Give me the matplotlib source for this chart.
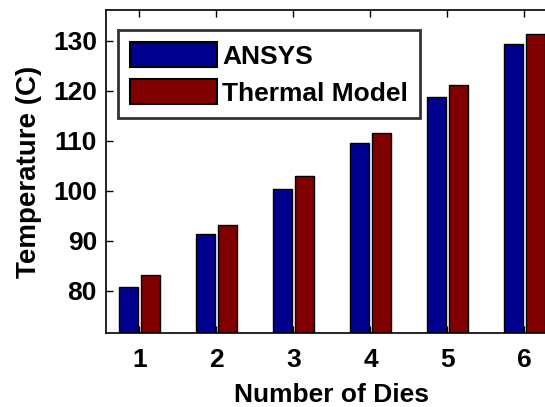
import numpy as np
import matplotlib
matplotlib.use('Agg')
import matplotlib.pyplot as plt

# data
dies = [1, 2, 3, 4, 5, 6]
ansys = [80.9, 91.4, 100.5, 109.7, 118.9, 129.5]
thermal = [83.2, 93.3, 103.0, 111.7, 121.3, 131.4]
series_names = ['ANSYS', 'Thermal Model']

plt.rcParams['font.family'] = ['Liberation Sans', 'DejaVu Sans']
plt.rcParams['font.weight'] = 'bold'

W, H = 545, 407
fig = plt.figure(figsize=(W/100, H/100), dpi=100)
# axes box in pixels (right side runs past the figure edge, like the reference)
x0, y0, y1 = 106, 333, 10
xlo, xhi = 0.565, 6.435
ppu = 77.0
ax = fig.add_axes([x0/W, (H-y0)/H, (xhi-xlo)*ppu/W, (y0-y1)/H])

x = np.array(dies)
off = 0.14
bw = 0.247
ax.bar(x-off, ansys, bw, color='#00008f', edgecolor='black', linewidth=1.0, label=series_names[0])
ax.bar(x+off, thermal, bw, color='#800000', edgecolor='black', linewidth=1.0, label=series_names[1])

ax.set_xlim(xlo, xhi)
ax.set_ylim(71.6, 136.2)
ax.set_xticks(dies)
ax.set_yticks([80, 90, 100, 110, 120, 130])
ax.tick_params(direction='in', length=5, width=1, top=True, right=True, labelsize=19)
ax.tick_params(axis='y', pad=6.5)
ax.tick_params(axis='x', pad=10.5)
for s in ax.spines.values():
    s.set_linewidth(1.2)

ax.set_xlabel('Number of Dies', fontsize=19, fontweight='bold', labelpad=8)
ax.set_ylabel('Temperature (C)', fontsize=20, fontweight='bold', labelpad=8)

leg = ax.legend(loc='upper left', bbox_to_anchor=(118/W, 1-30/H), bbox_transform=fig.transFigure,
                fontsize=19, frameon=True, fancybox=False, borderaxespad=0,
                handlelength=3.3, handleheight=1.1, handletextpad=0.2,
                labelspacing=0.4, borderpad=0.45)
leg.get_frame().set_edgecolor('black')
leg.get_frame().set_linewidth(2)
for p in leg.get_patches():
    p.set_linewidth(1.5)

fig.savefig('out.png', dpi=100)
